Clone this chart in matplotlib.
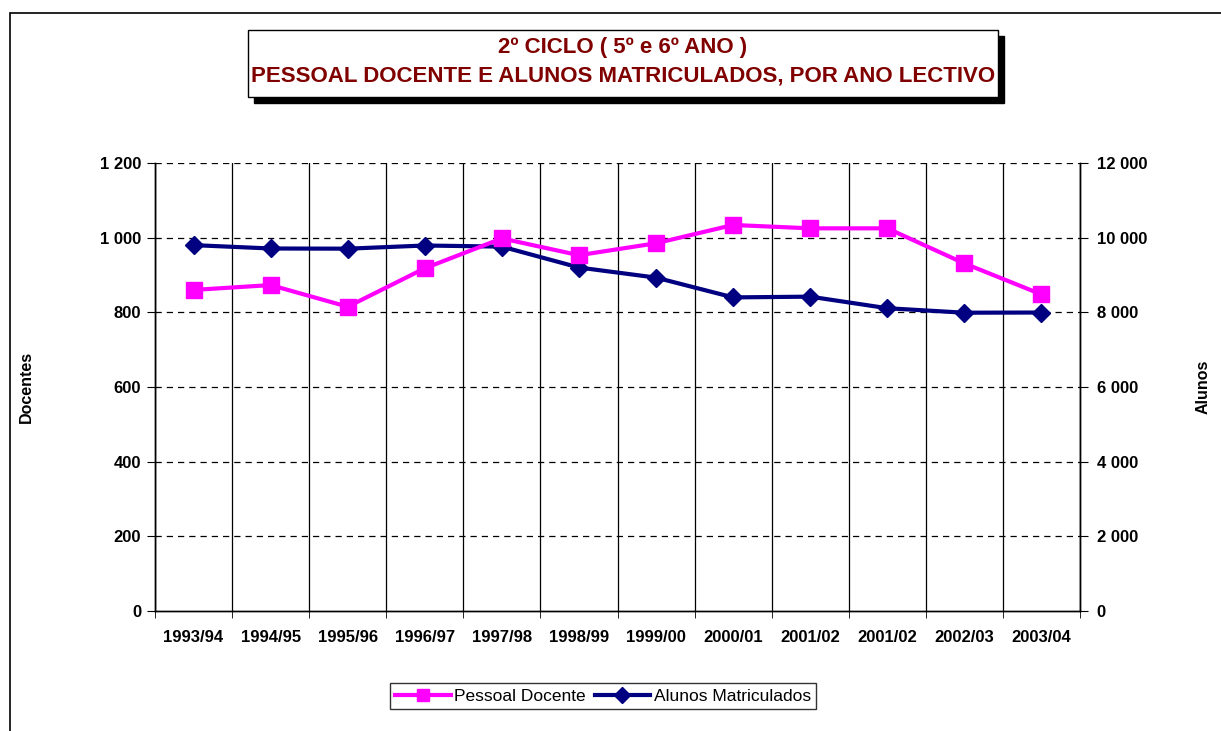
import matplotlib

matplotlib.use("Agg")
import matplotlib.pyplot as plt  # noqa: E402
from matplotlib.patches import Rectangle  # noqa: E402
from matplotlib.ticker import FuncFormatter, MultipleLocator  # noqa: E402

plt.rcParams["font.family"] = ["Liberation Sans", "DejaVu Sans"]

anos = ["1993/94", "1994/95", "1995/96", "1996/97", "1997/98", "1998/99",
        "1999/00", "2000/01", "2001/02", "2001/02", "2002/03", "2003/04"]
docentes = [860, 873, 815, 918, 998, 953, 985, 1034, 1025, 1025, 931, 848]
alunos = [9800, 9710, 9705, 9790, 9760, 9200, 8930, 8400, 8420, 8110, 7990, 7995]

TITLE_COLOR = "#800000"
MAGENTA = "#FF00FF"
NAVY = "#000080"

W, H = 1221, 731
fig = plt.figure(figsize=(W / 100, H / 100), dpi=100)


def px(x, y):
    return x / W, 1 - y / H


# cornice esterna (visibili solo i lati sinistro e superiore)
fig.patches.append(Rectangle(px(10, 1000), 1.5, (1000 - 13) / H,
                             transform=fig.transFigure, fill=False,
                             edgecolor="black", linewidth=1.2))

# riquadro del titolo con ombra
x0, y0, x1, y1 = 248, 30, 998, 97
fig.patches.append(Rectangle(px(x0 + 6, y1 + 6), (x1 - x0) / W, (y1 - y0) / H,
                             transform=fig.transFigure, facecolor="black",
                             edgecolor="black", zorder=1))
fig.patches.append(Rectangle(px(x0, y1), (x1 - x0) / W, (y1 - y0) / H,
                             transform=fig.transFigure, facecolor="white",
                             edgecolor="black", linewidth=1.0, zorder=2))
fig.text(*px(623, 47), "2º CICLO ( 5º e 6º ANO )", ha="center", va="center",
         fontsize=16, fontweight="bold", color=TITLE_COLOR, zorder=3)
fig.text(*px(623, 76), "PESSOAL DOCENTE E ALUNOS MATRICULADOS, POR ANO LECTIVO",
         ha="center", va="center", fontsize=16, fontweight="bold",
         color=TITLE_COLOR, zorder=3)

ax = fig.add_axes([155 / W, 1 - 611 / H, (1080 - 155) / W, (611 - 163) / H])
ax2 = ax.twinx()

x = list(range(len(anos)))
ax.set_xlim(-0.5, len(anos) - 0.5)
ax.set_ylim(0, 1200)
ax2.set_ylim(0, 12000)

# griglia: orizzontali tratteggiate, verticali piene ai confini di categoria
for v in range(200, 1201, 200):
    ax.axhline(v, color="black", linestyle=(0, (5, 4)), linewidth=0.9, zorder=1)
ax.set_xticks(x)
ax.set_xticklabels(anos)
ax.set_xticks([i - 0.5 for i in range(len(anos) + 1)], minor=True)
ax.grid(True, which="minor", axis="x", color="black", linewidth=0.9)
ax.tick_params(axis="x", which="major", length=0, pad=14)
ax.tick_params(axis="x", which="minor", length=5, direction="out")

ax.yaxis.set_major_locator(MultipleLocator(200))
ax2.yaxis.set_major_locator(MultipleLocator(2000))
fmt = FuncFormatter(lambda v, _: f"{int(v):,}".replace(",", " "))
ax.yaxis.set_major_formatter(fmt)
ax2.yaxis.set_major_formatter(fmt)
ax.tick_params(axis="y", length=6, pad=4)
ax2.tick_params(axis="y", length=6, pad=6)

for a in (ax, ax2):
    a.spines["top"].set_visible(False)
    for s in a.spines.values():
        s.set_linewidth(1.0)
    for lab in a.get_xticklabels() + a.get_yticklabels():
        lab.set_fontweight("bold")
        lab.set_fontsize(12)

ax.set_ylabel("Docentes", fontsize=11.5, fontweight="bold")
ax2.set_ylabel("Alunos", fontsize=11.5, fontweight="bold")
ax.yaxis.set_label_coords((34 - 155) / 925, 0.5)
ax2.yaxis.set_label_coords((1196 - 155) / 925, 0.5)

l1, = ax2.plot(x, [d * 10 for d in docentes], color=MAGENTA,
               linewidth=3, marker="s", markersize=12, label="Pessoal Docente",
               zorder=4)
l2, = ax2.plot(x, alunos, color=NAVY, linewidth=3, marker="D", markersize=9,
               label="Alunos Matriculados", zorder=3)

leg = fig.legend(handles=[l1, l2], loc="center", bbox_to_anchor=px(603, 696),
                 ncol=2, frameon=True, fancybox=False, fontsize=12.5,
                 handlelength=3.2, handletextpad=0.2, columnspacing=0.5,
                 borderpad=0.3, borderaxespad=0)
leg.get_frame().set_edgecolor("black")
leg.get_frame().set_linewidth(1.0)
for h in leg.legend_handles:
    h.set_markersize(8)

fig.savefig("out.png", dpi=100)
